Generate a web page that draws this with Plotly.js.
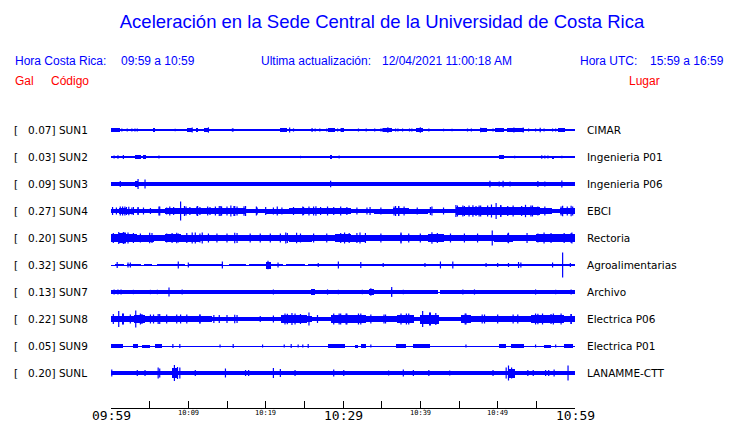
<!DOCTYPE html>
<html><head><meta charset="utf-8">
<script src="https://cdn.plot.ly/plotly-3.0.1.min.js"></script>
<style>html,body{margin:0;padding:0;background:#fff}#chart{width:740px;height:423px}</style>
</head><body><div id="chart"></div>
<script>
// ---------- DATA ----------
const codes  = ['SUN1','SUN2','SUN3','SUN4','SUN5','SUN6','SUN7','SUN8','SUN9','SUNL'];
const gal    = ['0.07','0.03','0.09','0.27','0.20','0.32','0.13','0.22','0.05','0.20'];
const places = ['CIMAR','Ingenieria P01','Ingenieria P06','EBCI','Rectoria','Agroalimentarias','Archivo','Electrica P06','Electrica P01','LANAMME-CTT'];
// steady background half-amplitude of each trace
const baseHalf = [0.9, 0.6, 2, 2, 3, 1.4, 1.6, 2, 0.5, 2];

// minutes after 09:59
const tickMin  = [0,5,10,15,20,25,30,35,40,45,50,55,60];
const tickText = ['09:59','','10:09','','10:19','','10:29','','10:39','','10:49','','10:59'];
const tickBig  = [true,false,false,false,false,false,true,false,false,false,false,false,true];

// SUN1
const sun1EnvS = [0,5.4,9.8,11.0,12.0,21.9,28.1,29.8,35.2,39.4,47.7,49.6,51.2,57.8];
const sun1EnvE = [1.2,5.7,10.5,11.3,12.7,22.8,29.0,30.1,36.3,40.3,48.6,50.8,53.4,58.7];
const sun1EnvH = [1.6,1.6,2,1.6,1.6,1.6,1.6,1.6,2,2,1.8,2,1.8,1.6];
const sun1SpT  = [1.4,2.1,2.7,3.1,3.4,8.3,10.5,12.6,15.7,15.8,23.1,23.6,26.0,26.4,27.0,27.9,29.3,29.7,32.0,33.0,34.1,34.9,35.1,35.8,36.8,37.1,37.7,38.6,38.9,40.0,41.1,43.0,44.1,46.1,46.6,47.8,49.4,52.1,53.3,54.0,54.9,55.5,56.0,57.1,57.5];
const sun1SpA  = [1.6,1.6,1.5,1.6,1.5,1.2,2.5,2.7,1.6,1.6,2.5,1.6,2,1.5,1.5,1.5,1.5,1.5,1.5,1.5,1.5,1.6,1.6,2.7,1.5,1.5,1.5,1.5,1.5,2.7,1.5,1.3,1.3,1.5,1.5,2.3,1.5,2.5,2.5,1.5,1.5,2.3,1.5,1.5,1.5];
// SUN2
const sun2EnvS = [3.1,4.1,28.3,50.2,57.0];
const sun2EnvE = [3.9,4.5,28.6,50.8,57.3];
const sun2EnvH = [2,2,2,2,1.5];
const sun2SpT  = [0.4,0.9,1.6,6.2,24.5,29.5,52.2,55.7,56.1,56.5,58.3];
const sun2SpA  = [1.5,1.8,2,1.5,1.2,1.5,1.2,1.8,1.5,1.5,1.2];
// SUN3
const sun3EnvS = [3.1];
const sun3EnvE = [3.5];
const sun3EnvH = [3];
const sun3SpT  = [1.2,3.5,4.4,28.4,49.0,50.2,50.7,51.6,55.2,56.1,58.3];
const sun3SpA  = [3,5,4.5,3.2,3.2,2.6,3.2,2.6,3,2.6,3.5];
// SUN4 (step envelope: start + half, runs to next start)
const sun4EnvS = [0,1,2,3,4,6,7,9,10,13,15,17.5,20,23,26,29,31,34,36.5,38.5,41,44.6,46,48,51,53.5,55.5,57,58,59];
const sun4EnvH = [2.3,2.8,2.5,2.3,1.9,1.9,2.7,3,2.7,3.2,3.4,2.3,2.5,2.7,3,2.7,2.3,2.5,3.2,2.5,2.3,3.6,3.6,4,3.6,3.8,3.2,2,3.2,3.4];
const sun4SpT  = [1.5,2.3,3.5,6.2,9.0,9.5,11.2,12.5,14.2,15.5,16.0,17.2,18.8,21.5,24.8,26.5,28.0,33.5,36.8,37.2,41.5,44.6,45.5,46.8,47.6,49.2,49.8,50.4,52.0,53.6,54.5,58.4,59.5];
const sun4SpA  = [4.5,4.2,4,4.5,9.5,5,5,4.5,5,5.5,5,4.8,4.5,4.5,4.5,4.8,4.5,4,5,4.8,4.5,6,5.5,5.8,5.5,6.5,8,6,5.5,6.2,5.5,5.2,5.2];
const sun4FurT = [0.2,0.7,1.2,1.8,2.0,2.7,2.9,3.5,4.2,5.1,6.3,7.2,7.6,8.1,9.7,10.2,11.1,11.5,12.8,13.5,14.0,14.3,15.0,15.9,16.3,17.4,18.9,20.0,21.0,22.1,23.6,24.9,25.6,26.2,27.1,28.8,29.7,30.5,31.8,33.1,34.9,36.6,37.2,37.9,39.6,41.3,43.0,44.8,45.7,46.3,47.2,47.8,48.7,50.4,51.3,53.1,54.3,55.2,56.1,58.2,59.0,59.7];
const sun4FurA = [4,3.5,4.5,4.5,4,3.5,4,3.5,3.5,3,4.5,3.5,4.5,4,4.5,4,4.5,4,4,4.5,5,4.5,4.5,5,4.5,5,3.5,4,3.5,3.5,4,4,4.5,4.5,4,4,4.5,4,3.5,3.5,3.5,4.5,5,4.5,3.5,4,3.5,5.5,5,5.5,5,5.5,5.5,5.5,5,5,5.5,4.5,4.5,4.5,4.5,4.5];
// SUN5
const sun5EnvS = [0,1,2,3.3,5.5,7,9,11.5,14,17,20,23,26,29,31,33,38,41,43,46,49.5,52,55,58];
const sun5EnvH = [4.2,4.6,4.2,3.5,3,3.7,3.5,3.3,3.1,3.3,3.1,3.5,3.3,3.7,3.5,3.3,3.4,3.7,3.3,3.3,3.5,3.4,3.7,3.7];
const sun5SpT  = [1.0,1.8,5.0,8.5,10.5,11.8,16.0,22.6,24.0,30.2,32.2,37.5,41.5,49.3,51.4,56.0,59.6];
const sun5SpA  = [6,5.8,5.2,5.2,5.5,5.5,5.2,5.4,5.2,5.5,5.5,5.4,5.7,7.5,5.3,5.4,5.6];
const sun5FurT = [0.3,1.6,2.2,2.9,3.8,5.3,7.2,7.9,8.7,9.8,10.9,11.5,12.6,13.7,15.0,16.3,18.0,19.3,20.6,21.9,22.8,24.5,26.2,27.9,29.7,30.8,31.8,32.9,34.9,37.5,38.5,40.0,42.2,43.9,45.7,47.4,51.3,53.8,55.2,56.9,58.6,59.5];
const sun5FurA = [5,6,5.5,5,4.5,5,4.5,5,4.5,5,5.5,4.5,4.5,4.5,4.5,5,4.5,4.5,4.5,4.5,5,4.5,4.5,4.5,5,5,5,5,4.5,4.5,4.5,4.5,5,4.5,4.5,4.5,4.5,5,4.5,5,5,5];
// SUN6
const sun6EnvS = [20.0];
const sun6EnvE = [20.7];
const sun6EnvH = [3.5];
const sun6GapS = [0,1.7,3.9,5.3,9.6,14.5,17.4,22.2,25.1];
const sun6GapE = [0.5,2.1,4.3,6.0,10.0,15.2,17.8,22.6,25.5];
const sun6SpT  = [0.8,2.2,2.5,8.7,10.0,14.4,20.3,21.6,26.8,29.4,32.3,35.2,40.6,42.6,44.2,48.5,50.0,51.4,52.7,53.0,57.1,58.4,59.4];
const sun6SpA  = [3,2.5,2.5,3.5,2.5,3.5,4.2,2.5,2,3.5,3,2,2,3.5,3.5,2,2,2,3,2.5,2.5,12.5,2];
// SUN7
const sun7EnvS = [0,25.8,27.7,33.3,36.2,47.3];
const sun7EnvE = [1.4,26.4,28.4,34.0,36.4,47.7];
const sun7EnvH = [2.2,2.8,2.3,3,3.5,2.3];
const sun7GapS = [42.3];
const sun7GapE = [42.6];
const sun7SpT  = [0.4,0.9,1.3,2.9,5.1,6.0,7.5,9.2,12.1,18.4,21.0,26.0,28.0,29.4,32.5,33.6,36.3,37.8,45.5,47.0,53.0,54.9,57.5,59.5];
const sun7SpA  = [2.6,2.6,2.6,2.2,2.2,2.2,4.5,2.6,2,1.8,2.5,3,2.6,2.2,2.2,3.8,5,2.2,2.5,2.6,1.8,2.6,2.2,2.6];
// SUN8 (step envelope)
const sun8EnvS = [0,1.8,3,4.4,6,7,13,16.7,19,22,25.4,26,28.4,31,33,37,39.2,40,42.4,45.2,46.5,50,54.3,58.6];
const sun8EnvH = [3.2,2.8,3.6,2.8,3.2,2.8,2.4,1.7,1.5,3.6,2.8,2.4,3.6,3.6,2.8,3.6,2.4,4.5,2,4,2.8,3,3.6,3.4];
const sun8SpT  = [1.0,1.5,3.2,3.8,5.5,6.3,9.0,11.5,14.0,16.0,22.8,23.8,25.6,29.5,30.4,32.0,35.5,38.2,40.3,41.2,45.8,48.0,52.0,55.2,57.2,59.5];
const sun8SpA  = [8,5.5,8.5,5.5,4.5,5,4.5,4.5,4,4.3,5.2,5.5,6.5,5.5,5.5,5.5,4.5,5.5,8,6.5,5.5,4.5,4.5,5.2,5.5,5];
const sun8FurT = [0.3,1.6,2.5,4.0,5.1,6.1,7.2,8.5,9.8,11.5,13.3,15.0,16.3,19.3,21.0,22.5,23.4,24.5,26.7,28.8,29.7,30.5,32.3,33.6,35.3,37.5,38.5,41.3,42.0,45.9,48.3,50.0,52.6,54.9,55.8,56.9,58.2,59.5];
const sun8FurA = [5,5.5,4.5,5,4.5,5,4.5,4.5,4.5,4.5,4,4,4,3,3.5,5.5,6,5,4,5.5,5.5,5.5,5.5,4.5,4.5,5.5,5.5,6.5,6,5.5,4.5,4.5,4.5,5.5,5.5,5,5.5,5];
// SUN9
const sun9EnvS = [0,2.8,4.0,5.7,28.1,31.6,32.3,36.8,39.0,50.2,51.7,56.0,58.6];
const sun9EnvE = [1.5,3.5,5.0,6.6,30.3,32.0,33.0,38.1,41.2,51.1,53.4,56.9,59.8];
const sun9EnvH = [1.7,2,1.5,2,1.7,1.5,2,2,1.7,2,1.7,1.5,1.7];
const sun9SpT  = [8.0,8.9,14.1,15.8,19.6,22.4,23.3,24.2,24.8,25.5,33.6,45.9,54.9,57.5];
const sun9SpA  = [2,2,1.5,2,1.5,1.5,2,1.5,1.5,2,1.5,1.5,1.5,1.5];
// SUNL
const sunLEnvS = [7.9,51.3];
const sunLEnvE = [8.6,52.2];
const sunLEnvH = [5,4.5];
const sunLSpT  = [0.1,3.4,4.4,6.1,6.3,8.2,8.6,8.9,10.9,14.8,17.4,17.8,21.0,21.9,23.8,28.8,30.1,35.9,37.8,39.1,41.1,43.8,49.4,51.1,51.4,51.8,53.9,54.6,56.2,56.6,57.3,59.1];
const sunLSpA  = [3.5,3,3,5.5,4.5,8,6,5.5,3,4.5,3,3,5,4,3,3.5,3,2.5,3.5,3,3,2.5,3,5.5,7.5,5.5,3,3,3,3,3.5,7.5];

// ---------- BUILD ----------
const TMAX = 60;
function stepEnds(s){ return s.slice(1).concat([TMAX]); }
const stations = [
  {s:sun1EnvS,e:sun1EnvE,h:sun1EnvH,sp:[[sun1SpT,sun1SpA]]},
  {s:sun2EnvS,e:sun2EnvE,h:sun2EnvH,sp:[[sun2SpT,sun2SpA]]},
  {s:sun3EnvS,e:sun3EnvE,h:sun3EnvH,sp:[[sun3SpT,sun3SpA]]},
  {s:sun4EnvS,e:stepEnds(sun4EnvS),h:sun4EnvH,sp:[[sun4SpT,sun4SpA],[sun4FurT,sun4FurA]]},
  {s:sun5EnvS,e:stepEnds(sun5EnvS),h:sun5EnvH,sp:[[sun5SpT,sun5SpA],[sun5FurT,sun5FurA]]},
  {s:sun6EnvS,e:sun6EnvE,h:sun6EnvH,sp:[[sun6SpT,sun6SpA]],gs:sun6GapS,ge:sun6GapE},
  {s:sun7EnvS,e:sun7EnvE,h:sun7EnvH,sp:[[sun7SpT,sun7SpA]],gs:sun7GapS,ge:sun7GapE},
  {s:sun8EnvS,e:stepEnds(sun8EnvS),h:sun8EnvH,sp:[[sun8SpT,sun8SpA],[sun8FurT,sun8FurA]]},
  {s:sun9EnvS,e:sun9EnvE,h:sun9EnvH,sp:[[sun9SpT,sun9SpA]]},
  {s:sunLEnvS,e:sunLEnvE,h:sunLEnvH,sp:[[sunLSpT,sunLSpA]]}
];

// layout geometry (pixels)
const W = 740, H = 423, L = 111, R = 575, T = 116, B = 408;
const PH = B - T;            // y axis: 1 unit = 1 px
const ROW0 = 14, ROWSTEP = 27;
const BLUE = '#0000ff', RED = '#ff0000';
const px2x = p => (p - L) / (R - L);
const py2y = p => (B - p) / (B - T);

const traces = [];
const barX = [], barW = [], barB = [], barY = [];
const spX = [], spY = [];
function addBar(s, e, c, h){ barX.push((s+e)/2); barW.push(e-s); barB.push(c-h); barY.push(2*h); }

stations.forEach((st, i) => {
  const c = ROW0 + ROWSTEP*i;
  if (st.gs) {
    addBar(0, TMAX, c, 0.5);
    let cur = 0;
    st.gs.forEach((g, k) => { if (g > cur) addBar(cur, g, c, baseHalf[i]); cur = st.ge[k]; });
    if (cur < TMAX) addBar(cur, TMAX, c, baseHalf[i]);
  } else {
    addBar(0, TMAX, c, baseHalf[i]);
  }
  st.s.forEach((s, k) => addBar(s, st.e[k], c, st.h[k]));
  st.sp.forEach(([tt, aa]) => {
    const n = Math.min(tt.length, aa.length);
    for (let k = 0; k < n; k++) { spX.push(tt[k], tt[k], null); spY.push(c - aa[k], c + aa[k], null); }
  });
});

traces.push({type:'bar', x:barX, width:barW, base:barB, y:barY,
  marker:{color:BLUE, line:{width:0}}, hoverinfo:'skip', showlegend:false});
traces.push({type:'scatter', mode:'lines', x:spX, y:spY, connectgaps:false,
  line:{color:BLUE, width:1.2}, hoverinfo:'skip', showlegend:false});

const ann = [];
const hdrFont = {family:'Liberation Sans, Arial, sans-serif', size:12, color:BLUE};
const redFont = {family:'Liberation Sans, Arial, sans-serif', size:12, color:RED};
function txt(text, xpx, ypx, font, anchor){
  ann.push({text, xref:'paper', yref:'paper', x:px2x(xpx), y:py2y(ypx), xanchor:anchor||'left', yanchor:'middle', showarrow:false, font});
}
txt('Hora Costa Rica:', 13, 61, hdrFont);
txt('09:59 a 10:59', 119, 61, hdrFont);
txt('Ultima actualización:', 259, 61, hdrFont);
txt('12/04/2021 11:00:18 AM', 380, 61, hdrFont);
txt('Hora UTC:', 578, 61, hdrFont);
txt('15:59 a 16:59', 648, 61, hdrFont);
txt('Gal', 13, 81, redFont);
txt('Código', 49, 81, redFont);
txt('Lugar', 627, 81, redFont);

const lblFont = {family:'DejaVu Sans, sans-serif', size:10.5, color:'#000'};
const nb = '\u00a0';
codes.forEach((code, i) => {
  const c = ROW0 + ROWSTEP*i;
  ann.push({text:'[' + nb+nb+nb + gal[i] + '] ' + code, xref:'paper', yref:'y', x:px2x(12), y:c,
    xanchor:'left', yanchor:'middle', showarrow:false, font:lblFont});
  ann.push({text:places[i], xref:'paper', yref:'y', x:px2x(585), y:c,
    xanchor:'left', yanchor:'middle', showarrow:false, font:lblFont});
});

// tick labels (mixed sizes) as annotations on the x axis
tickMin.forEach((m, k) => {
  if (!tickText[k]) return;
  ann.push({text:tickText[k], xref:'x', yref:'paper', x:m, y:py2y(tickBig[k] ? 415 : 413),
    xanchor:'center', yanchor:'middle', showarrow:false,
    font:{family:'DejaVu Sans Mono, monospace', size:tickBig[k] ? 13 : 7, color:'#000'}});
});

const layout = {
  width:W, height:H,
  margin:{l:L, r:W-R, t:T, b:H-B, pad:0},
  paper_bgcolor:'#fff', plot_bgcolor:'#fff',
  barmode:'overlay', bargap:0,
  title:{text:'Aceleración en la Sede Central de la Universidad de Costa Rica',
    font:{family:'Liberation Sans, Arial, sans-serif', size:18.5, color:BLUE},
    xref:'container', yref:'container', x:382/W, y:1-22/H, xanchor:'center', yanchor:'middle'},
  xaxis:{range:[0,TMAX], showgrid:false, zeroline:false, showline:true, linecolor:'#000', linewidth:1,
    ticks:'inside', ticklen:7, tickwidth:1, tickcolor:'#000', tickmode:'array', tickvals:tickMin,
    showticklabels:false, fixedrange:true},
  yaxis:{range:[PH,0], visible:false, showgrid:false, zeroline:false, fixedrange:true},
  annotations:ann, showlegend:false
};
Plotly.newPlot('chart', traces, layout, {staticPlot:true, displayModeBar:false});
</script>
</body></html>
